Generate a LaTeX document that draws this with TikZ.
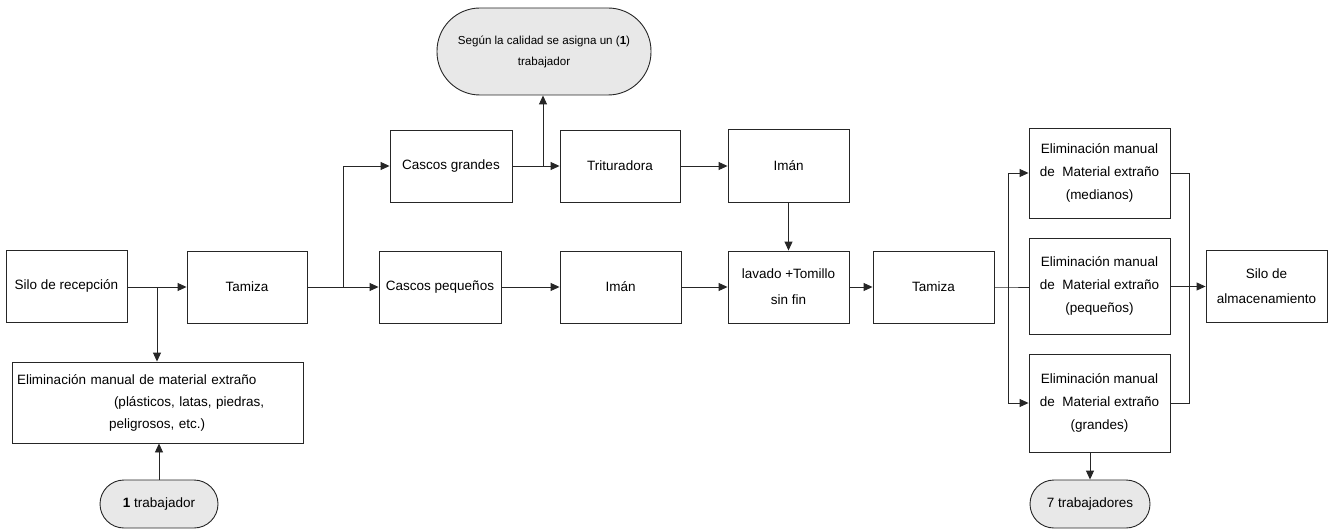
\documentclass[tikz,border=0pt]{standalone}
\usepackage{fontspec}
\setmainfont{Liberation Sans}
\usetikzlibrary{arrows.meta}
\begin{document}
\begin{tikzpicture}[x=1pt,y=-1pt,
  every node/.style={font=\fontsize{13.5}{22}\selectfont},
  box/.style={draw=black!85, line width=0.9pt, inner sep=0pt, align=center,
    minimum width=#1, minimum height=72pt},
  box/.default=121pt,
  pill/.style={draw=black!85, line width=0.9pt, fill=black!9, inner sep=0pt, align=center},
  ln/.style={draw=black!85, line width=0.9pt},
  arr/.style={ln, -{Triangle[length=9pt,width=8pt]}}
]
\useasboundingbox (0,0) rectangle (1329,532);

% nodes
\node[box=121pt, minimum height=72pt] (silo1) at (66.5,286) {Silo de recepción};
\node[box=120pt] (tam1) at (247,287) {Tamiza};
\node[box=122pt] (casg) at (451,166) {Cascos grandes};
\node[box=120pt] (trit) at (620,166) {Trituradora};
\node[box=121pt, minimum height=73pt] (iman1) at (788.5,165.5) {Imán};
\node[box=122pt] (casp) at (440,287) {Cascos pequeños};
\node[box=121pt] (iman2) at (620.5,287) {Imán};
\node[box=121pt, font=\fontsize{13.5}{26}\selectfont] (lav) at (788.5,287) {lavado +Tomillo\\sin fin};
\node[box=121pt] (tam2) at (933.5,287) {Tamiza};
\node[box=141pt, minimum height=90pt, font=\fontsize{13.5}{23}\selectfont] (e1) at (1099.5,173) {Eliminación manual\\de\ \ Material extraño\\(medianos)};
\node[box=141pt, minimum height=96pt, font=\fontsize{13.5}{23}\selectfont] (e2) at (1099.5,286) {Eliminación manual\\de\ \ Material extraño\\(pequeños)};
\node[box=141pt, minimum height=98pt, font=\fontsize{13.5}{23}\selectfont] (e3) at (1099.5,403) {Eliminación manual\\de\ \ Material extraño\\(grandes)};
\node[box=121pt, minimum height=72pt, font=\fontsize{13.5}{25}\selectfont] (silo2) at (1266.5,286.5) {Silo de\\almacenamiento};
\node[box=291pt, minimum height=81pt, align=left, text width=281pt, font=\fontsize{13.5}{22}\selectfont] (elim) at (157.5,402.5)
  {Eliminación manual de material extraño\\\hspace*{97pt}(plásticos, latas, piedras,\\\hspace*{92pt}peligrosos, etc.)};
\node[pill, minimum width=118pt, minimum height=48pt, rounded corners=24pt] (w1) at (159,504) {\textbf{1} trabajador};
\node[pill, minimum width=120pt, minimum height=48pt, rounded corners=24pt] (w7) at (1090,504) {7 trabajadores};
\node[pill, minimum width=214pt, minimum height=87pt, rounded corners=43pt, font=\fontsize{11.6}{21}\selectfont] (seg) at (544,51.5) {Según la calidad se asigna un (\textbf{1})\\trabajador};

% junctions
\coordinate (j1) at (157,287);
\coordinate (j2) at (343,287);
\coordinate (j3) at (543,166);
\coordinate (j4) at (1008,287);
\coordinate (j5) at (1189,173);

% connectors
\draw[arr] (silo1.east |- j1) -- (tam1.west);
\draw[arr] (j1) -- (j1 |- elim.north);
\draw[arr] (w1.north) -- (w1.north |- elim.south);
\draw[ln] (tam1.east) -- (j2);
\draw[arr] (j2) -- (casp.west);
\draw[arr] (j2) |- (casg.west);
\draw[arr] (casg.east) -- (trit.west);
\draw[arr] (j3) -- (j3 |- seg.south);
\draw[arr] (trit.east) -- (iman1.west |- trit.east);
\draw[arr] (iman1.south) -- (lav.north);
\draw[arr] (casp.east) -- (iman2.west);
\draw[arr] (iman2.east) -- (lav.west);
\draw[arr] (lav.east) -- (tam2.west);
\draw[ln] (tam2.east) -- (j4) -- (e2.west |- j4);
\draw[arr] (j4) |- (e1.west);
\draw[arr] (j4) |- (e3.west);
\draw[ln] (e1.east) -- (j5) |- (e3.east);
\draw[arr] (e2.east |- silo2.west) -- (silo2.west);
\draw[arr] (e3.south -| w7.north) -- (w7.north);
\end{tikzpicture}
\end{document}
